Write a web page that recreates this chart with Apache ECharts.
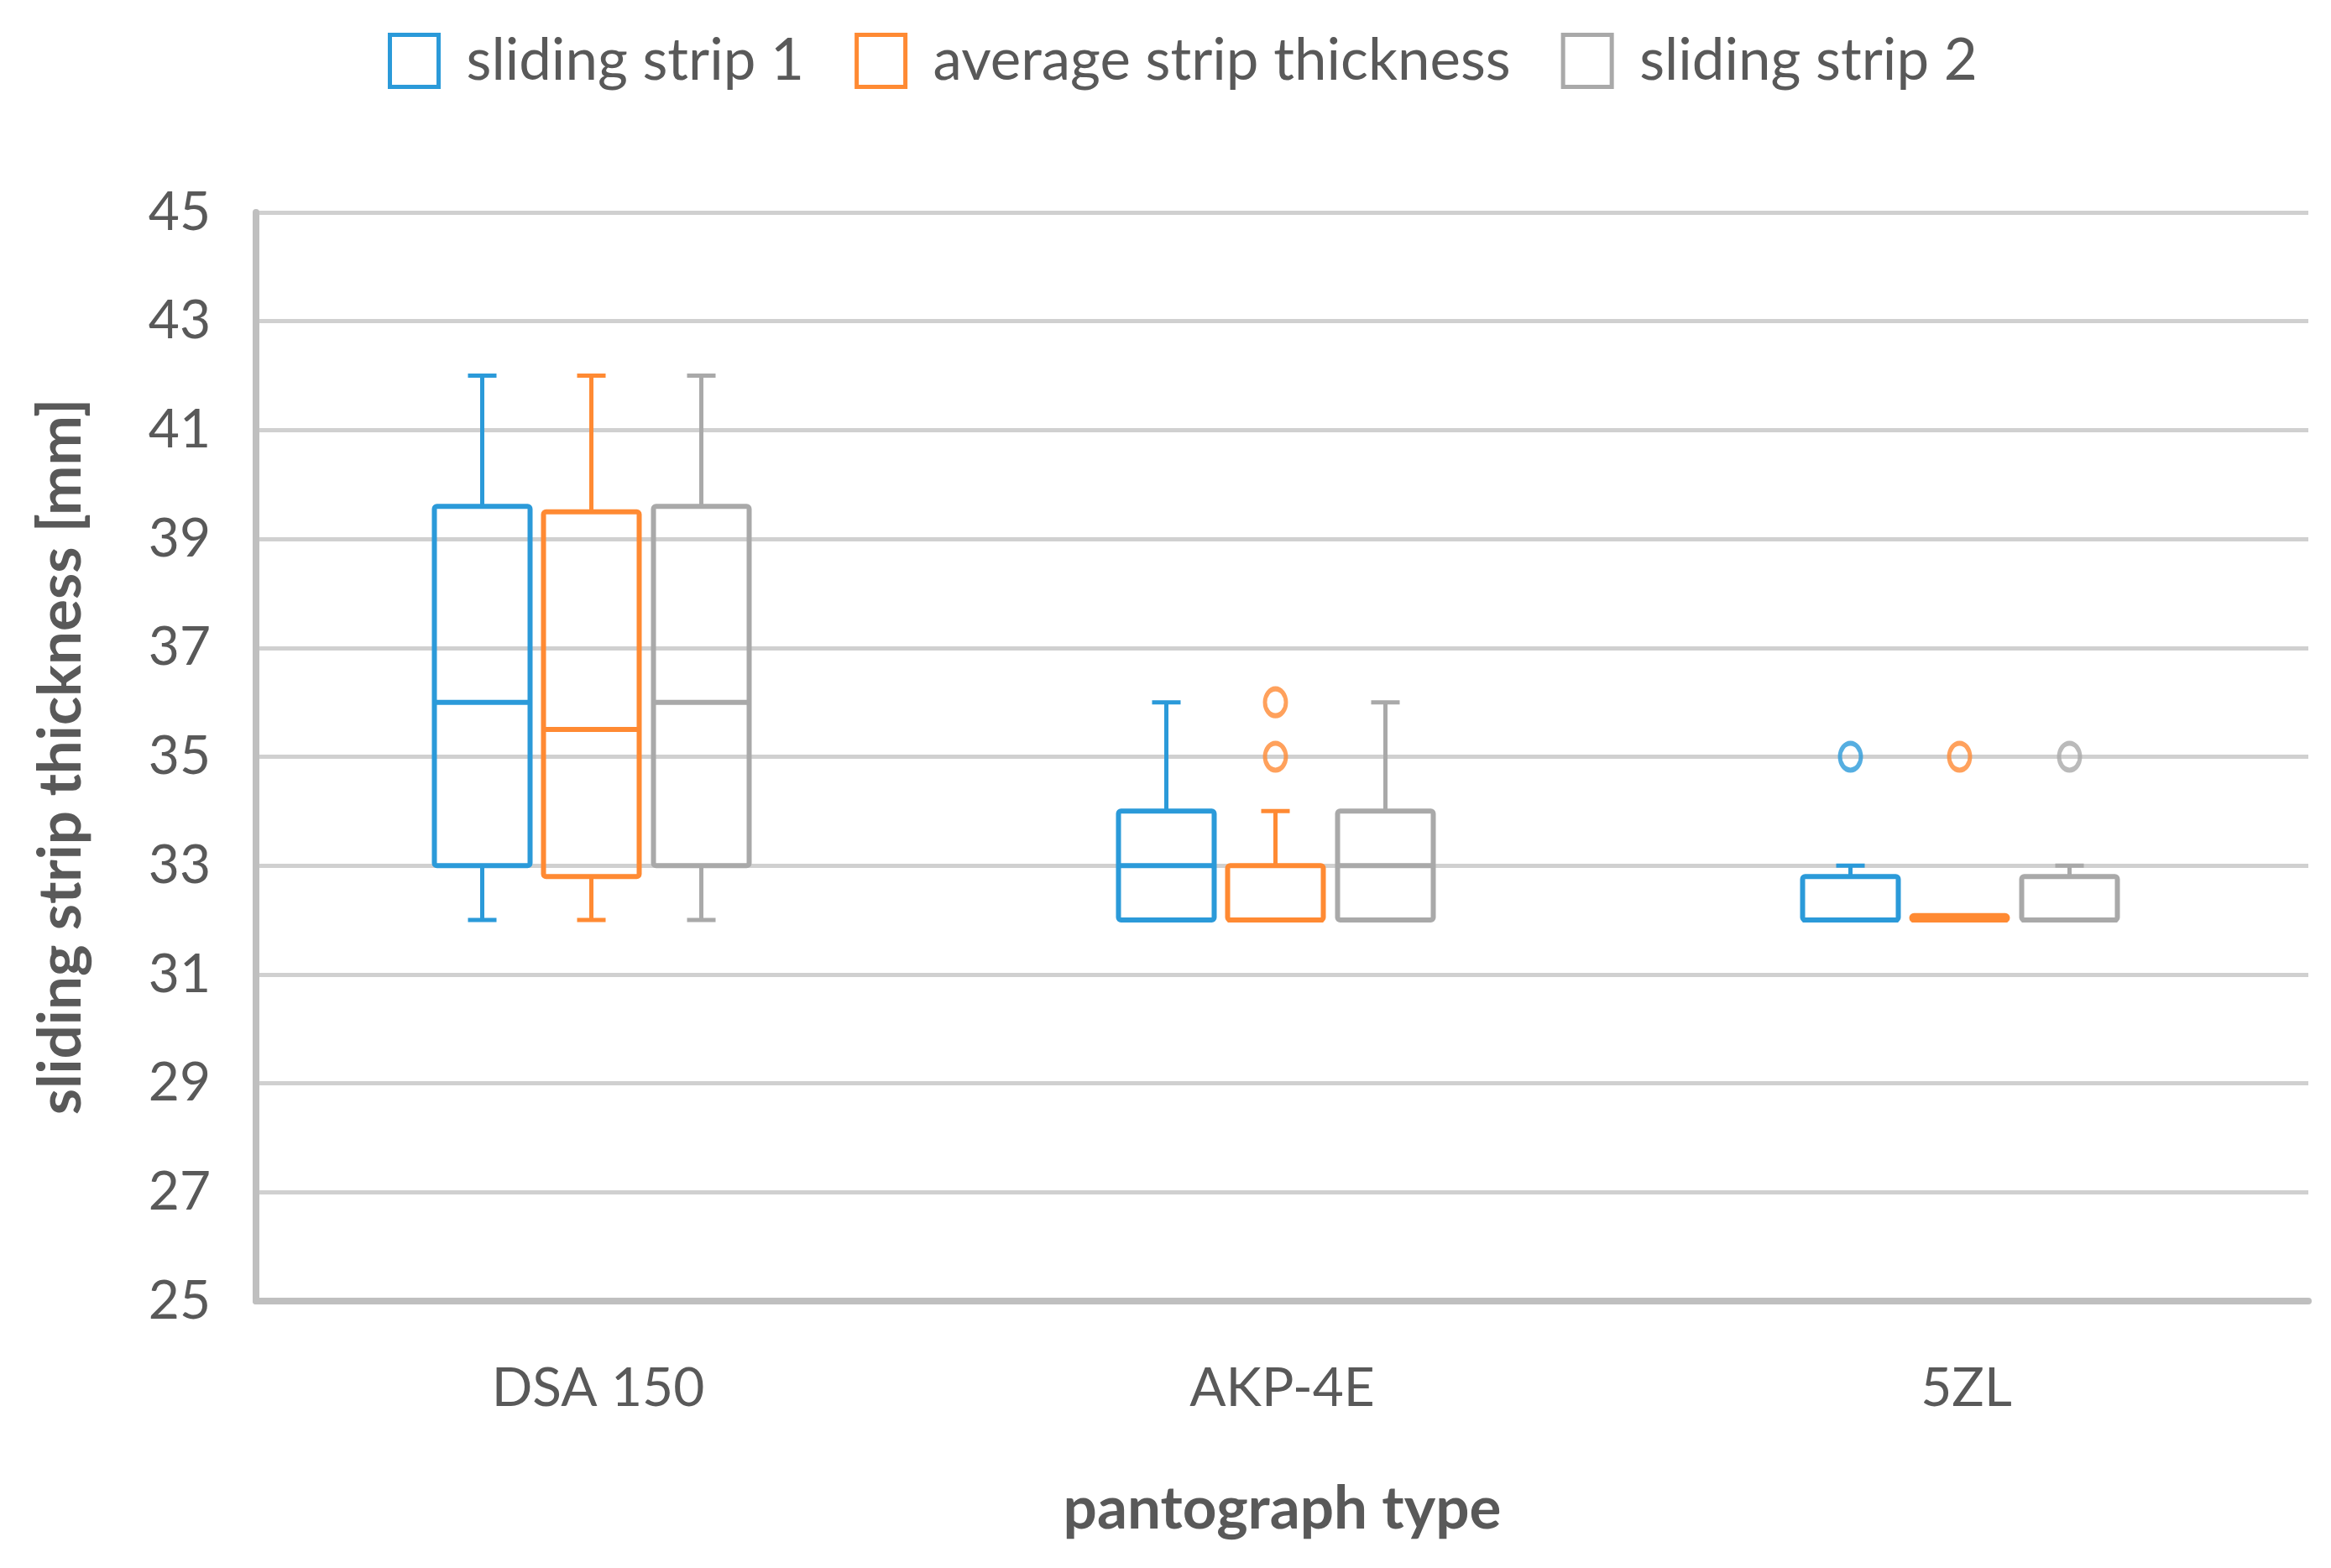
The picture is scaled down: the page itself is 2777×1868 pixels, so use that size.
<!DOCTYPE html>
<html>
<head>
<meta charset="utf-8">
<script src="https://cdn.jsdelivr.net/npm/echarts@6/dist/echarts.min.js"></script>
<style>
  html, body { margin: 0; padding: 0; background: #ffffff; }
  #chart { width: 2777px; height: 1868px; }
</style>
</head>
<body>
<div id="chart"></div>
<script>
// ---- data ----
const categories = ['DSA 150', 'AKP-4E', '5ZL'];
const seriesNames = ['sliding strip 1', 'average strip thickness', 'sliding strip 2'];
// [min, Q1, median, Q3, max] per category
const strip1Box = [[32, 33, 36, 39.6, 42], [32, 32, 33, 34, 36], [32, 32, 32, 32.8, 33]];
const averageBox = [[32, 32.8, 35.5, 39.5, 42], [32, 32, 32, 33, 34], [32, 32, 32, 32.08, 32.08]];
const strip2Box = [[32, 33, 36, 39.6, 42], [32, 32, 33, 34, 36], [32, 32, 32, 32.8, 33]];
// outliers: [categoryIndex, value]
const strip1Outliers = [[2, 35]];
const averageOutliers = [[1, 35], [1, 36], [2, 35]];
const strip2Outliers = [[2, 35]];
const yTicks = [25, 27, 29, 31, 33, 35, 37, 39, 41, 43, 45];

// ---- styles ----
const colors = ['#2b9ad9', '#ff8a33', '#a9a9a9'];
const offsets = [-138, -8, 123];
const BOX_W = 114, CAP_W = 34;
const textColor = '#595959';
const FONT = 'Lato';

function toCustom(box) {
  return box.map((d, i) => [i].concat(d));
}

function makeRender(offset, color) {
  return function (params, api) {
    const cat = api.value(0);
    const cx = api.coord([cat, api.value(1)])[0] + offset;
    const y = k => api.coord([cat, api.value(k)])[1];
    const yMin = y(1), yQ1 = y(2), yMed = y(3), yQ3 = y(4), yMax = y(5);
    const ls = { stroke: color, lineWidth: 5, fill: null };
    const bs = { stroke: color, lineWidth: 6, fill: null };
    return {
      type: 'group',
      children: [
        { type: 'line', shape: { x1: cx, y1: yMax, x2: cx, y2: yQ3 }, style: ls },
        { type: 'line', shape: { x1: cx - CAP_W / 2, y1: yMax, x2: cx + CAP_W / 2, y2: yMax }, style: ls },
        { type: 'line', shape: { x1: cx, y1: yMin, x2: cx, y2: yQ1 }, style: ls },
        { type: 'line', shape: { x1: cx - CAP_W / 2, y1: yMin, x2: cx + CAP_W / 2, y2: yMin }, style: ls },
        { type: 'rect', shape: { x: cx - BOX_W / 2, y: yQ3, width: BOX_W, height: yQ1 - yQ3, r: 3 }, style: bs },
        { type: 'line', shape: { x1: cx - BOX_W / 2, y1: yMed, x2: cx + BOX_W / 2, y2: yMed }, style: bs }
      ]
    };
  };
}

const boxes = [strip1Box, averageBox, strip2Box];
const outliers = [strip1Outliers, averageOutliers, strip2Outliers];

const series = [];
boxes.forEach((b, i) => {
  series.push({
    name: seriesNames[i],
    type: 'custom',
    renderItem: makeRender(offsets[i], colors[i]),
    encode: { x: 0, y: [1, 2, 3, 4, 5] },
    itemStyle: { color: colors[i] },
    data: toCustom(b),
    z: 3
  });
});
outliers.forEach((o, i) => {
  series.push({
    name: seriesNames[i] + ' outliers',
    type: 'scatter',
    data: o,
    symbol: 'circle',
    symbolSize: [25, 32],
    symbolOffset: [offsets[i], 0],
    itemStyle: { color: 'rgba(255,255,255,0)', borderColor: colors[i], borderWidth: 5.5 },
    z: 4
  });
});

const chart = echarts.init(document.getElementById('chart'), null, { renderer: 'canvas' });
chart.setOption({
  backgroundColor: '#ffffff',
  animation: false,
  textStyle: { fontFamily: FONT },
  legend: {
    data: seriesNames.map((n, i) => ({
      name: n,
      icon: 'rect',
      itemStyle: { color: '#ffffff', borderColor: colors[i], borderWidth: 5 }
    })),
    left: 457,
    top: 33,
    itemWidth: 58,
    itemHeight: 62,
    itemGap: 60,
    selectedMode: false,
    textStyle: { fontSize: 69, color: textColor, fontFamily: FONT, padding: [0, 0, 0, 28] }
  },
  grid: { left: 305, right: 27, top: 253, bottom: 318, containLabel: false },
  xAxis: {
    type: 'category',
    data: categories,
    boundaryGap: true,
    axisLine: { show: true, lineStyle: { color: '#bfbfbf', width: 8 } },
    axisTick: { show: false },
    splitLine: { show: false },
    axisLabel: { fontSize: 64, color: textColor, margin: 72, fontFamily: FONT },
    name: 'pantograph type',
    nameLocation: 'middle',
    nameGap: 213,
    nameTextStyle: { fontSize: 71, fontWeight: 'bold', color: textColor, fontFamily: FONT }
  },
  yAxis: {
    type: 'value',
    min: 25,
    max: 45,
    interval: 2,
    axisLine: { show: true, lineStyle: { color: '#bfbfbf', width: 8 } },
    axisTick: { show: false },
    splitLine: { show: true, lineStyle: { color: '#d0d0d0', width: 5 } },
    axisLabel: {
      fontSize: 64, color: textColor, margin: 54, fontFamily: FONT,
      customValues: yTicks
    },
    name: 'sliding strip thickness [mm]',
    nameLocation: 'middle',
    nameGap: 196,
    nameTextStyle: { fontSize: 71, fontWeight: 'bold', color: textColor, fontFamily: FONT }
  },
  series: series
});
</script>
</body>
</html>
